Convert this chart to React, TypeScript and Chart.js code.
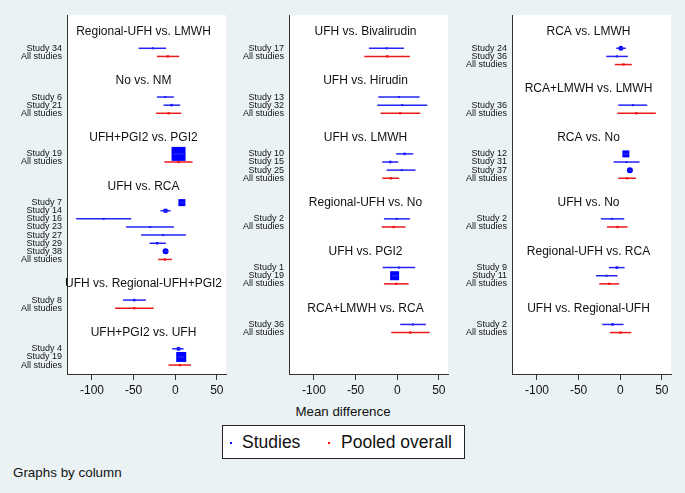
import React, { useEffect, useRef } from "react";
import { Chart, registerables } from "chart.js";
Chart.register(...registerables);

const FONT = "'Liberation Sans', Arial, Helvetica, sans-serif";

// ---------- Data: column 1 ----------
const c1Comparisons = ["Regional-UFH vs. LMWH", "No vs. NM", "UFH+PGI2 vs. PGI2", "UFH vs. RCA", "UFH vs. Regional-UFH+PGI2", "UFH+PGI2 vs. UFH"];
const c1Studies = [["Study 34"], ["Study 6", "Study 21"], ["Study 19"], ["Study 7", "Study 14", "Study 16", "Study 23", "Study 27", "Study 29", "Study 38"], ["Study 8"], ["Study 4", "Study 19"]];
const c1Est = [[-27], [-12, -4.4], [4], [8, -11.6, -86, -30, -14.4, -21.6, -11.6], [-49.2], [4, 7.2]];
const c1Lower = [[-44], [-22, -14], [-2], [5, -17.6, -119, -59, -41, -30.8, -14], [-62.8], [-3.6, 3]];
const c1Upper = [[-11], [-1.6, 6], [10], [11, -5.6, -53, -1.6, 12.8, -11.2, -9], [-35.2], [10, 11]];
const c1Weight = [[2], [2, 2.5], [14], [7, 4, 2, 2, 2, 2.5, 6], [2.5], [3.5, 10]];
const c1PooledEst = [-8.8, -8, 4, -12.4, -49.2, 5.6];
const c1PooledLower = [-22, -23, -13, -20.4, -72.4, -8];
const c1PooledUpper = [4.8, 7.2, 20.8, -4, -26, 18.8];

// ---------- Data: column 2 ----------
const c2Comparisons = ["UFH vs. Bivalirudin", "UFH vs. Hirudin", "UFH vs. LMWH", "Regional-UFH vs. No", "UFH vs. PGI2", "RCA+LMWH vs. RCA"];
const c2Studies = [["Study 17"], ["Study 13", "Study 32"], ["Study 10", "Study 15", "Study 25"], ["Study 2"], ["Study 1", "Study 19"], ["Study 36"]];
const c2Est = [[-12.7], [2, 6], [8.9, -8.4, 5.3], [-0.7], [2, -3.1], [18.8]];
const c2Lower = [[-34], [-22.7, -24], [-1.2, -18, -12.7], [-16], [-17.5, -7], [3.6]];
const c2Upper = [[8], [26.9, 36], [19.2, 1.2, 22], [15.2], [21.6, 1], [34.4]];
const c2Weight = [[2], [2, 2], [2.5, 2.5, 2], [2], [2, 9], [2]];
const c2PooledEst = [-12, 3.6, -7.6, -4.3, -1.2, 15.6];
const c2PooledLower = [-39.6, -20, -18, -18.7, -16, -7.2];
const c2PooledUpper = [15.2, 27.6, 2.4, 10, 13.7, 38.9];

// ---------- Data: column 3 ----------
const c3Comparisons = ["RCA vs. LMWH", "RCA+LMWH vs. LMWH", "RCA vs. No", "UFH vs. No", "Regional-UFH vs. RCA", "UFH vs. Regional-UFH"];
const c3Studies = [["Study 24", "Study 36"], ["Study 36"], ["Study 12", "Study 31", "Study 37"], ["Study 2"], ["Study 9", "Study 11"], ["Study 2"]];
const c3Est = [[0.8, -4], [15.2], [6.8, 7.6, 11.6], [-9.6], [-4, -16.4], [-9.2]];
const c3Lower = [[-4.8, -16.8], [-2.4], [3.5, -8, 9], [-23.2], [-13.6, -29.2], [-21.6]];
const c3Upper = [[6.8, 9.2], [32.4], [10, 23.2, 14], [4.8], [5.2, -3.2], [4]];
const c3Weight = [[5, 2], [2], [7, 2, 6], [2], [2.5, 2], [2.5]];
const c3PooledEst = [4, 19.6, 8.4, -3.2, -13.2, 0.4];
const c3PooledLower = [-6.4, -3.6, -2.4, -16, -25.2, -12.4];
const c3PooledUpper = [14, 42.8, 18.8, 8.8, -1.2, 13.2];

const xTicks = [-100, -50, 0, 50];
const xMin = -130;
const xMax = 61;
const pooledLabel = "All studies";

// ---------- Styles / layout ----------
const BG = "#eaf2f3";
const BLUE = "#0000ff";
const BLUE_LINE = "rgb(35,35,245)";
const RED = "#ff0000";
const RED_LINE = "rgb(235,25,25)";
const AXIS = "#333333";
const TEXT = "#111111";
const CANVAS_H = 400;
const PLOT_TOP = 15;
const PLOT_BOTTOM = 374;

type PanelData = {
  comparisons: string[];
  studies: string[][];
  est: number[][];
  lower: number[][];
  upper: number[][];
  weight: number[][];
  pEst: number[];
  pLower: number[];
  pUpper: number[];
};

const panels: PanelData[] = [
  { comparisons: c1Comparisons, studies: c1Studies, est: c1Est, lower: c1Lower, upper: c1Upper, weight: c1Weight, pEst: c1PooledEst, pLower: c1PooledLower, pUpper: c1PooledUpper },
  { comparisons: c2Comparisons, studies: c2Studies, est: c2Est, lower: c2Lower, upper: c2Upper, weight: c2Weight, pEst: c2PooledEst, pLower: c2PooledLower, pUpper: c2PooledUpper },
  { comparisons: c3Comparisons, studies: c3Studies, est: c3Est, lower: c3Lower, upper: c3Upper, weight: c3Weight, pEst: c3PooledEst, pLower: c3PooledLower, pUpper: c3PooledUpper },
];

const panelLayout = [
  { left: 0, width: 230, yW: 67, plotRight: 226 },
  { left: 230, width: 230, yW: 59, plotRight: 218 },
  { left: 453, width: 232, yW: 59, plotRight: 218 },
];

function buildConfig(p: PanelData, lay: { width: number; yW: number; plotRight: number }) {
  let r = 0;
  const titleRows: number[] = [];
  const tickRows: number[] = [];
  const tickLabels: string[] = [];
  const datasets: any[] = [];
  const studyPts: any[] = [];
  const studyRadius: number[] = [];
  const studyStyle: string[] = [];
  const pooledPts: any[] = [];

  p.comparisons.forEach((c, g) => {
    titleRows.push(r);
    r += 2;
    p.studies[g].forEach((s, i) => {
      const row = r + i;
      tickRows.push(row);
      tickLabels.push(s);
      datasets.push({
        type: "line",
        data: [{ x: p.lower[g][i], y: row }, { x: p.upper[g][i], y: row }],
        borderColor: BLUE_LINE,
        borderWidth: 1.5,
        pointRadius: 0,
      });
      const w = p.weight[g][i];
      studyPts.push({ x: p.est[g][i], y: row });
      const round = w >= 4.5 && w <= 6.5;
      studyStyle.push(round ? "circle" : "rect");
      studyRadius.push(round ? w / 2 : w / Math.SQRT2);
    });
    r += p.studies[g].length;
    tickRows.push(r);
    tickLabels.push(pooledLabel);
    datasets.push({
      type: "line",
      data: [{ x: p.pLower[g], y: r }, { x: p.pUpper[g], y: r }],
      borderColor: RED_LINE,
      borderWidth: 1.5,
      pointRadius: 0,
    });
    pooledPts.push({ x: p.pEst[g], y: r });
    r += 3;
  });

  datasets.push({
    type: "scatter",
    data: studyPts,
    backgroundColor: BLUE,
    borderWidth: 0,
    pointStyle: studyStyle,
    pointRadius: studyRadius,
  });
  datasets.push({
    type: "scatter",
    data: pooledPts,
    backgroundColor: RED,
    borderWidth: 0,
    pointStyle: "rect",
    pointRadius: 1.6,
  });

  const geomPlugin = {
    id: "fixgeom",
    afterLayout(chart: any) {
      const L = lay.yW, R = lay.plotRight, T = PLOT_TOP, B = PLOT_BOTTOM;
      const ca = chart.chartArea;
      ca.left = L; ca.right = R; ca.top = T; ca.bottom = B; ca.width = R - L; ca.height = B - T;
      const xs = chart.scales.x;
      xs.left = L; xs.right = R; xs.width = R - L; xs.top = B; xs.bottom = CANVAS_H; xs.height = CANVAS_H - B;
      xs.configure();
      const ys = chart.scales.y;
      ys.left = 0; ys.right = L; ys.width = L; ys.top = T; ys.bottom = B; ys.height = B - T;
      ys.configure();
    },
  };
  const bgPlugin = {
    id: "plotbg",
    beforeDraw(chart: any) {
      const { ctx, chartArea: a } = chart;
      ctx.save();
      ctx.fillStyle = "#ffffff";
      ctx.fillRect(a.left, a.top, a.right - a.left, a.bottom - a.top);
      ctx.restore();
    },
  };
  const titlePlugin = {
    id: "grouptitles",
    afterDraw(chart: any) {
      const { ctx, chartArea: a } = chart;
      const ys = chart.scales.y;
      ctx.save();
      ctx.font = `12px ${FONT}`;
      ctx.fillStyle = TEXT;
      ctx.textAlign = "center";
      ctx.textBaseline = "middle";
      const cx = (a.left + a.right) / 2 - 3;
      p.comparisons.forEach((c, i) => {
        ctx.fillText(c, cx, ys.getPixelForValue(titleRows[i]));
      });
      ctx.restore();
    },
  };

  return {
    type: "scatter",
    data: { datasets },
    options: {
      animation: false,
      responsive: false,
      maintainAspectRatio: false,
      devicePixelRatio: 1,
      layout: { autoPadding: false, padding: { top: PLOT_TOP, right: lay.width - lay.plotRight, left: 0, bottom: 0 } },
      plugins: { legend: { display: false }, tooltip: { enabled: false }, title: { display: false } },
      scales: {
        x: {
          type: "linear",
          min: xMin,
          max: xMax,
          afterBuildTicks: (s: any) => {
            s.ticks = xTicks.map((v) => ({ value: v }));
          },
          afterFit: (s: any) => {
            s.height = CANVAS_H - PLOT_BOTTOM;
            s.paddingLeft = 0;
            s.paddingRight = 0;
          },
          grid: { display: true, drawOnChartArea: false, drawTicks: true, tickLength: 6, color: AXIS, lineWidth: 1 },
          border: { display: true, color: AXIS, width: 1 },
          ticks: { font: { size: 12, family: FONT }, color: TEXT, padding: 3, maxRotation: 0, autoSkip: false },
        },
        y: {
          type: "linear",
          reverse: true,
          min: -2.1,
          max: 42.1,
          afterBuildTicks: (s: any) => {
            s.ticks = tickRows.map((v) => ({ value: v }));
          },
          afterFit: (s: any) => {
            s.width = lay.yW;
            s.paddingTop = 0;
            s.paddingBottom = 0;
          },
          grid: { display: false, drawTicks: false },
          border: { display: true, color: AXIS, width: 1 },
          ticks: {
            autoSkip: false,
            font: { size: 9, family: FONT },
            color: TEXT,
            padding: 5,
            callback: (_v: any, i: number) => tickLabels[i],
          },
        },
      },
    },
    plugins: [geomPlugin, bgPlugin, titlePlugin],
  };
}

function Panel({ idx }: { idx: number }) {
  const ref = useRef<HTMLCanvasElement>(null);
  const lay = panelLayout[idx];
  useEffect(() => {
    const chart = new Chart(ref.current as HTMLCanvasElement, buildConfig(panels[idx], lay) as any);
    return () => chart.destroy();
  }, [idx]);
  return (
    <canvas
      ref={ref}
      width={lay.width}
      height={CANVAS_H}
      style={{ position: "absolute", left: lay.left, top: 0, width: lay.width, height: CANVAS_H }}
    />
  );
}

export default function App() {
  const txt: React.CSSProperties = { position: "absolute", fontFamily: FONT, color: TEXT, whiteSpace: "nowrap" };
  return (
    <div style={{ position: "absolute", left: 0, top: 0, width: 685, height: 493, background: BG, overflow: "hidden" }}>
      <Panel idx={0} />
      <Panel idx={1} />
      <Panel idx={2} />
      <div style={{ ...txt, left: 243, width: 200, textAlign: "center", top: 411.5 - 6.65, fontSize: 13.3, lineHeight: "13.3px" }}>
        Mean difference
      </div>
      <div
        style={{
          position: "absolute",
          left: 222,
          top: 425,
          width: 241,
          height: 32,
          background: "#ffffff",
          border: "1px solid #222",
        }}
      />
      <div style={{ position: "absolute", left: 230, top: 442, width: 2, height: 2, background: BLUE }} />
      <div style={{ ...txt, left: 242, top: 443 - 8.75, fontSize: 17.5, lineHeight: "17.5px" }}>Studies</div>
      <div style={{ position: "absolute", left: 328, top: 442, width: 2, height: 2, background: RED }} />
      <div style={{ ...txt, left: 341, top: 443 - 8.75, fontSize: 17.5, lineHeight: "17.5px" }}>Pooled overall</div>
      <div style={{ ...txt, left: 13, top: 473 - 6.7, fontSize: 13.4, lineHeight: "13.4px" }}>Graphs by column</div>
    </div>
  );
}
